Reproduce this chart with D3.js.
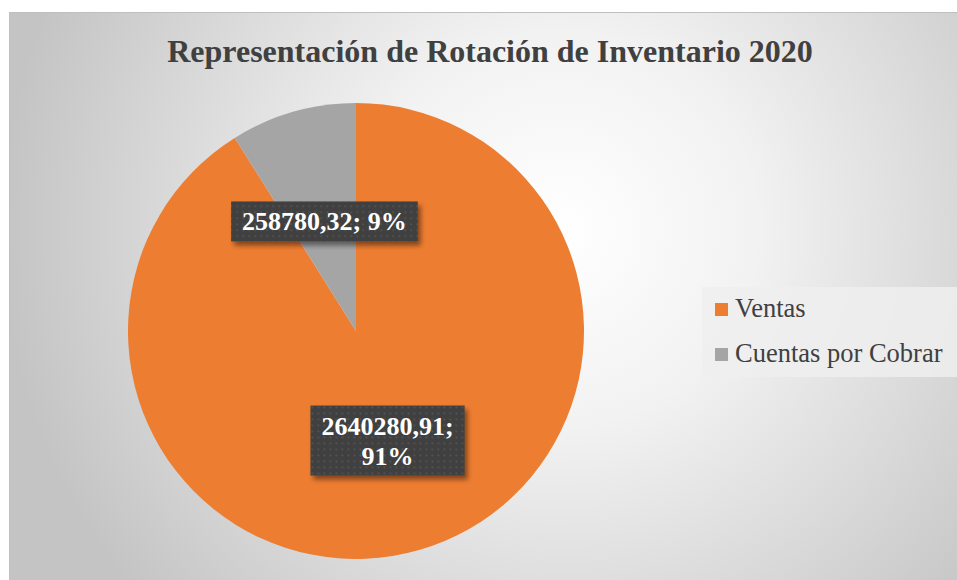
<!DOCTYPE html>
<html>
<head>
<meta charset="utf-8">
<script src="https://cdn.jsdelivr.net/npm/d3@7"></script>
<style>
  body { margin: 0; background: #fff; }
  svg { display: block; }
</style>
</head>
<body>
<div id="chart"></div>
<script>
// datos del grafico
var categorias = ["Ventas", "Cuentas por Cobrar"];
var valores = [2640280.91, 258780.32];
var colores = ["#ed7d31", "#a5a5a5"];
var titulo = "Representación de Rotación de Inventario 2020";

var width = 957, height = 580;
var cx = 356, cy = 331, radio = 228;

var svg = d3.select("#chart").append("svg")
  .attr("width", width)
  .attr("height", height);

var defs = svg.append("defs");

// fondo degradado radial
var grad = defs.append("radialGradient")
  .attr("id", "fondo")
  .attr("gradientUnits", "userSpaceOnUse")
  .attr("cx", 560).attr("cy", 230).attr("r", 560);
grad.append("stop").attr("offset", "0%").attr("stop-color", "#ffffff");
grad.append("stop").attr("offset", "35%").attr("stop-color", "#f2f2f2");
grad.append("stop").attr("offset", "100%").attr("stop-color", "#c4c4c4");

// patron punteado para las etiquetas
var pat = defs.append("pattern")
  .attr("id", "puntos")
  .attr("patternUnits", "userSpaceOnUse")
  .attr("width", 6).attr("height", 6);
pat.append("rect").attr("width", 6).attr("height", 6).attr("fill", "#404040");
pat.append("rect").attr("x", 2).attr("y", 2).attr("width", 1.5).attr("height", 1.5).attr("fill", "#5c5c5c");

var sombra = defs.append("filter").attr("id", "sombra")
  .attr("x", "-20%").attr("y", "-20%").attr("width", "150%").attr("height", "160%");
sombra.append("feDropShadow")
  .attr("dx", 3).attr("dy", 4).attr("stdDeviation", 2.5)
  .attr("flood-color", "#000").attr("flood-opacity", 0.45);

svg.append("rect")
  .attr("x", 9.5).attr("y", 12.5)
  .attr("width", width - 9).attr("height", height - 12)
  .attr("fill", "url(#fondo)")
  .attr("stroke", "#bfbfbf");

// titulo
svg.append("text")
  .attr("x", 490)
  .attr("y", 62)
  .attr("text-anchor", "middle")
  .style("font-family", "'Liberation Serif', 'Times New Roman', serif")
  .style("font-size", "32px")
  .style("font-weight", "bold")
  .style("fill", "#404040")
  .text(titulo);

var datos = categorias.map(function(c, i) { return {nombre: c, valor: valores[i], color: colores[i]}; });
var total = d3.sum(valores);

var pie = d3.pie().sort(null).value(function(d) { return d.valor; });
var arc = d3.arc().innerRadius(0).outerRadius(radio);

var g = svg.append("g").attr("transform", "translate(" + cx + "," + cy + ")");

g.selectAll("path")
  .data(pie(datos))
  .enter().append("path")
  .attr("d", arc)
  .attr("fill", function(d) { return d.data.color; });

// etiquetas
var fmt = d3.format(".2f");
function textoValor(v) { return fmt(v).replace(".", ","); }
function textoPct(v) { return Math.round(v / total * 100) + "%"; }

var fuente = "'Liberation Serif', 'Times New Roman', serif";
var arcoEtiq = d3.arc().innerRadius(0).outerRadius(radio);

pie(datos).forEach(function(d) {
  var c = arcoEtiq.centroid(d);
  var lineas;
  if (d.data.valor / total > 0.5) {
    lineas = [textoValor(d.data.valor) + ";", textoPct(d.data.valor)];
  } else {
    lineas = [textoValor(d.data.valor) + "; " + textoPct(d.data.valor)];
  }
  var lg = g.append("g").attr("transform", "translate(" + c[0] + "," + c[1] + ")");
  var fondo = lg.append("rect").attr("fill", "url(#puntos)").attr("filter", "url(#sombra)");
  var t = lg.append("text")
    .attr("text-anchor", "middle")
    .style("font-family", fuente)
    .style("font-size", "26px")
    .style("font-weight", "bold")
    .style("fill", "#ffffff");
  var alto = 30;
  lineas.forEach(function(l, i) {
    t.append("tspan")
      .attr("x", 0)
      .attr("y", (i - (lineas.length - 1) / 2) * alto + 9)
      .text(l);
  });
  var bb = t.node().getBBox();
  var w = bb.width + 22, h = lineas.length * alto + 10;
  fondo.attr("x", -w / 2).attr("y", -h / 2).attr("width", w).attr("height", h);
});

// leyenda
var ley = svg.append("g");
ley.append("rect")
  .attr("x", 702).attr("y", 287)
  .attr("width", width - 702).attr("height", 90)
  .attr("fill", "#efefef")
  .attr("opacity", 0.85);

var item = ley.selectAll(".item")
  .data(datos)
  .enter().append("g")
  .attr("class", "item")
  .attr("transform", function(d, i) { return "translate(715," + (303 + i * 45) + ")"; });

item.append("rect")
  .attr("width", 13).attr("height", 13)
  .attr("fill", function(d) { return d.color; });

item.append("text")
  .attr("x", 20)
  .attr("y", 14)
  .style("font-family", fuente)
  .style("font-size", "26.5px")
  .style("fill", "#404040")
  .text(function(d) { return d.nombre; });
</script>
</body>
</html>
